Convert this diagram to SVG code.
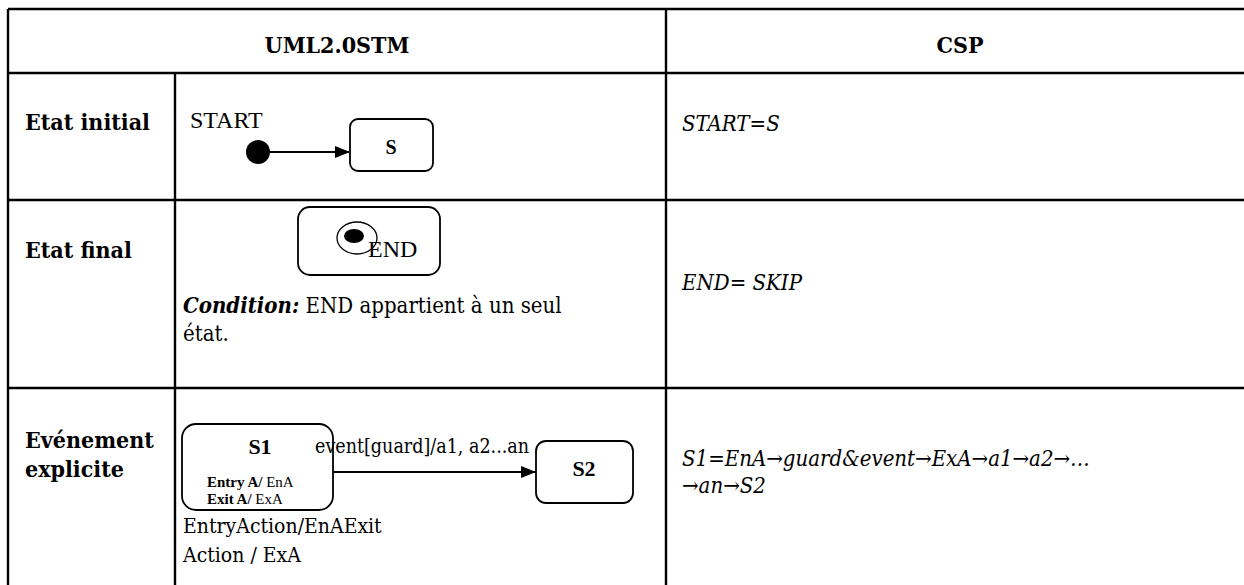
<svg xmlns="http://www.w3.org/2000/svg" width="1244" height="585" viewBox="0 0 1244 585">
<style>
.grid{stroke:#000;stroke-width:2.4;fill:none}
.box{fill:#fff;stroke:#000;stroke-width:1.8}
.cam{font-family:"DejaVu Serif Condensed","DejaVu Serif",serif;font-stretch:condensed;fill:#000}
.lbl{font-size:23px;font-weight:bold}
.csp{font-size:22px;font-style:italic}
.body{font-size:21px}
.tnr{font-family:"Liberation Serif","Times New Roman",serif;fill:#000}
.conn{stroke:#000;stroke-width:1.8;fill:none}
</style>
<defs>
<marker id="arr" markerUnits="userSpaceOnUse" markerWidth="15" markerHeight="12" refX="15" refY="6" orient="auto">
<path d="M0,0 L15,6 L0,12 z" fill="#000"/>
</marker>
</defs>
<rect width="1244" height="585" fill="#fff"/>
<g id="table" class="grid">
<line x1="8" y1="9" x2="1250" y2="9"/>
<line x1="8" y1="73" x2="1250" y2="73"/>
<line x1="8" y1="200" x2="1250" y2="200"/>
<line x1="8" y1="388" x2="1250" y2="388"/>
<line x1="8" y1="9" x2="8" y2="590"/>
<line x1="175" y1="73" x2="175" y2="590"/>
<line x1="666" y1="9" x2="666" y2="590"/>
</g>
<g id="headers">
<text class="cam lbl" x="337" y="53" text-anchor="middle">UML2.0STM</text>
<text class="cam lbl" x="960" y="53" text-anchor="middle">CSP</text>
</g>
<g id="row-labels">
<text class="cam lbl" x="25" y="130">Etat initial</text>
<text class="cam lbl" x="25" y="258">Etat final</text>
<text class="cam lbl" x="25" y="448">Evénement</text>
<text class="cam lbl" x="25" y="477">explicite</text>
</g>
<g id="initial">
<text class="tnr" x="190" y="128" font-size="24">START</text>
<circle cx="258" cy="152" r="12" fill="#000"/>
</g>
<g id="state-S">
<rect class="box" x="350" y="119" width="83" height="52" rx="8"/>
<text class="tnr" x="391" y="154" font-size="20" font-weight="bold" text-anchor="middle">S</text>
</g>
<g id="final">
<rect class="box" x="298" y="207" width="142" height="68" rx="12"/>
<ellipse cx="357" cy="238" rx="20" ry="16" fill="none" stroke="#000" stroke-width="1.3"/>
<ellipse cx="354" cy="236" rx="10" ry="7" fill="#000"/>
<text class="tnr" x="368" y="257" font-size="24">END</text>
</g>
<g id="condition">
<text class="cam" font-size="22" x="183" y="313"><tspan font-weight="bold" font-style="italic">Condition:</tspan> END appartient à un seul</text>
<text class="cam" font-size="22" x="183" y="341">état.</text>
</g>
<g id="state-S1">
<rect class="box" x="182" y="424" width="151" height="86" rx="14"/>
<text class="tnr" x="260" y="454" font-size="22" font-weight="bold" text-anchor="middle">S1</text>
<text class="tnr" x="207" y="487" font-size="15"><tspan font-weight="bold">Entry A/</tspan> EnA</text>
<text class="tnr" x="207" y="504" font-size="15"><tspan font-weight="bold">Exit A/</tspan> ExA</text>
</g>
<g id="state-S2">
<rect class="box" x="536" y="441" width="97" height="62" rx="10"/>
<text class="tnr" x="584" y="476" font-size="22" font-weight="bold" text-anchor="middle">S2</text>
</g>
<g id="connectors">
<line class="conn" x1="270" y1="152" x2="350" y2="152" marker-end="url(#arr)"/>
<line class="conn" x1="333" y1="472" x2="536" y2="472" marker-end="url(#arr)"/>
</g>
<g id="transition-label">
<text class="cam" font-size="19.5" x="315" y="453">event[guard]/a1, a2...an</text>
</g>
<g id="s1-note">
<text class="cam body" x="183" y="533">EntryAction/EnAExit</text>
<text class="cam body" x="183" y="562">Action / ExA</text>
</g>
<g id="csp-text">
<text class="cam csp" x="682" y="131">START=S</text>
<text class="cam csp" x="682" y="290">END= SKIP</text>
<text class="cam csp" font-size="20" x="682" y="466">S1=EnA→guard&amp;event→ExA→a1→a2→…</text>
<text class="cam csp" font-size="20" x="682" y="493">→an→S2</text>
</g>
</svg>
